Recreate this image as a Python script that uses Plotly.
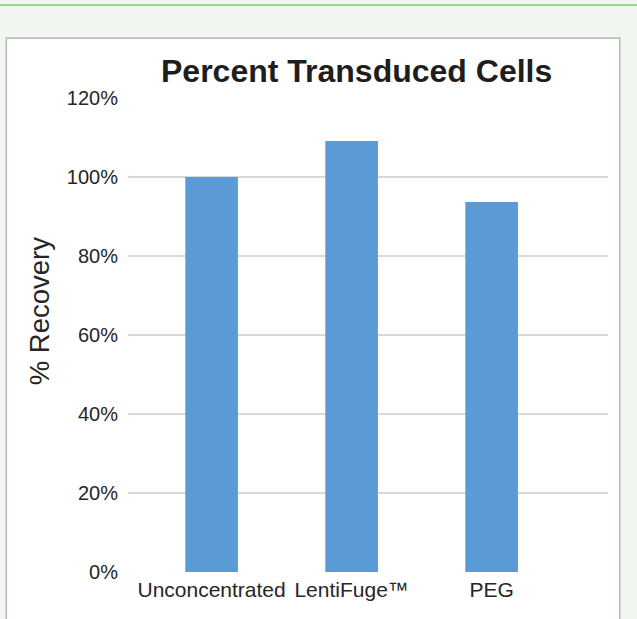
import plotly.graph_objects as go

categories = ["Unconcentrated", "LentiFuge™", "PEG"]
recovery = [1.00, 1.091, 0.937]
tick_vals = [0, 0.2, 0.4, 0.6, 0.8, 1.0, 1.2]
tick_text = ["0%", "20%", "40%", "60%", "80%", "100%", "120%"]

W, H = 637, 619
L, R, T, B = 127.7, 29.3, 98.3, 47.3
PW, PH = W - L - R, H - T - B

def px(x):
    return (x - L) / PW

def py(y):
    return (H - y - B) / PH

FONT = "Liberation Sans, Arial, sans-serif"

fig = go.Figure(go.Bar(
    x=categories, y=recovery, marker=dict(color="#5b9bd5", line=dict(width=0)),
    width=0.376, hoverinfo="skip",
))

fig.update_layout(
    width=W, height=H,
    margin=dict(l=L, r=R, t=T, b=B, pad=0),
    paper_bgcolor="#eff7ee", plot_bgcolor="rgba(0,0,0,0)",
    showlegend=False,
    font=dict(family=FONT, color="#404040"),
    xaxis=dict(range=[-0.597, 2.831], showgrid=False, zeroline=False, showline=False,
               ticks="", tickfont=dict(size=21, color="#262626"), ticklabelstandoff=3,
               fixedrange=True),
    yaxis=dict(range=[0, 1.2], tickvals=tick_vals, ticktext=tick_text,
               showgrid=True, gridcolor="#d9d9d9", gridwidth=1.2,
               zeroline=False, showline=False, ticks="",
               tickfont=dict(size=20, color="#262626"), ticklabelstandoff=9,
               fixedrange=True),
    shapes=[
        dict(type="rect", xref="paper", yref="paper", layer="below",
             x0=px(6), x1=px(619.5), y0=py(640), y1=py(38.5),
             fillcolor="white", line=dict(color="#a8a8a8", width=1.2)),
        dict(type="line", xref="paper", yref="paper", layer="below",
             x0=px(-5), x1=px(645), y0=py(5.5), y1=py(5.5),
             line=dict(color="#7dcc7d", width=1.5)),
    ],
    annotations=[
        dict(text="<b>Percent Transduced Cells</b>", xref="paper", yref="paper",
             x=px(355.8), y=py(71), xanchor="center", yanchor="middle",
             showarrow=False, font=dict(size=32, color="#1e1e1e", family=FONT)),
        dict(text="% Recovery", xref="paper", yref="paper",
             x=px(40), y=py(311), xanchor="center", yanchor="middle",
             textangle=-90, showarrow=False,
             font=dict(size=27.5, color="#262626", family=FONT)),
    ],
)

fig.write_html(
    "out.html",
    config={"displayModeBar": False, "staticPlot": True},
    post_script="document.body.style.margin='0';document.body.style.overflow='hidden';",
)
